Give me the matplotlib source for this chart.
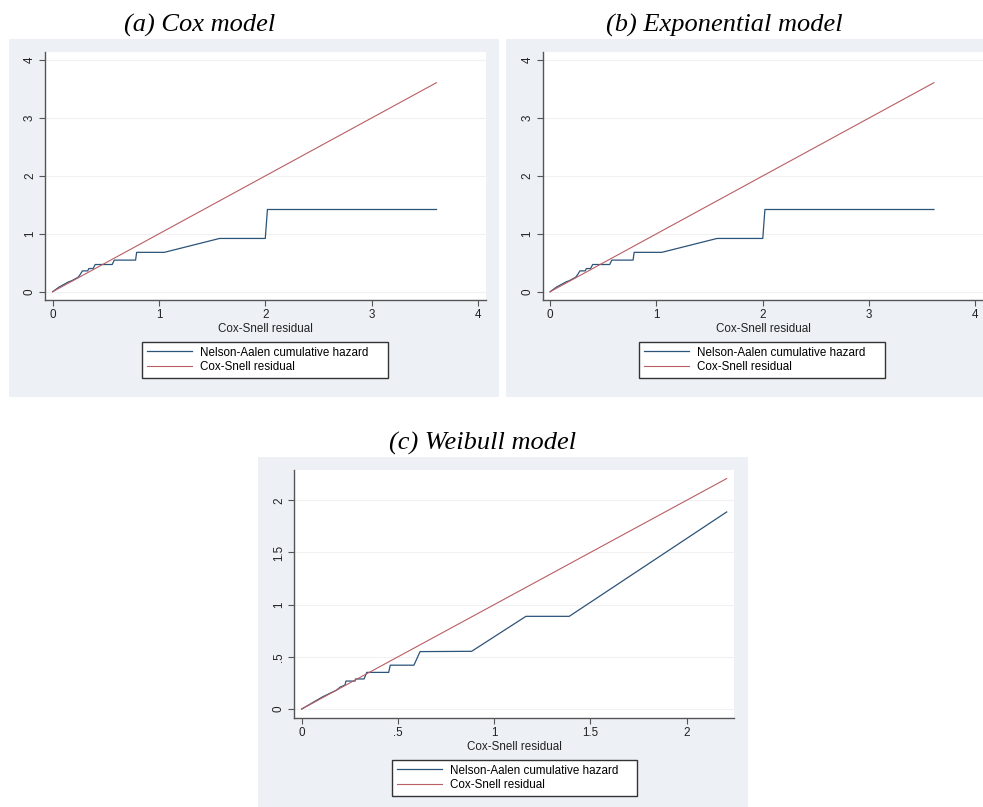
import numpy as np
import matplotlib
matplotlib.use("Agg")
import matplotlib.pyplot as plt
from matplotlib.patches import Rectangle

plt.rcParams['font.family'] = ['Liberation Sans', 'DejaVu Sans']

# --- data ---
# (a) Cox model and (b) Exponential model: Nelson-Aalen cumulative hazard vs Cox-Snell residual
cs_a = [0, 0.03, 0.06, 0.09, 0.12, 0.15, 0.18, 0.21, 0.24, 0.26, 0.28, 0.33, 0.34, 0.38,
        0.40, 0.56, 0.58, 0.78, 0.79, 1.05, 1.57, 2.00, 2.02, 3.61]
na_a = [0, 0.04, 0.08, 0.11, 0.14, 0.17, 0.19, 0.22, 0.25, 0.30, 0.36, 0.36, 0.40, 0.40,
        0.47, 0.47, 0.546, 0.546, 0.68, 0.68, 0.92, 0.92, 1.42, 1.42]
cs_b = cs_a
na_b = na_a
# (c) Weibull model
cs_c = [0, 0.08, 0.11, 0.18, 0.20, 0.225, 0.23, 0.277, 0.28, 0.324, 0.338, 0.452, 0.46,
        0.583, 0.615, 0.883, 1.165, 1.39, 2.208]
na_c = [0, 0.086, 0.118, 0.18, 0.21, 0.23, 0.268, 0.268, 0.288, 0.288, 0.351, 0.351, 0.42,
        0.42, 0.55, 0.553, 0.888, 0.888, 1.888]
diag_ab = [0, 3.61]
diag_c = [0, 2.208]

titles = ['(a) Cox model', '(b) Exponential model', '(c) Weibull model']
yticks_ab = [0, 1, 2, 3, 4]
xticks_ab = [0, 1, 2, 3, 4]
ticks_c = [0, 0.5, 1, 1.5, 2]
ticklabels_c = ['0', '.5', '1', '1.5', '2']
legend_labels = ['Nelson-Aalen cumulative hazard', 'Cox-Snell residual']

W, H = 983, 807
fig = plt.figure(figsize=(W / 100, H / 100), dpi=100)
fig.patch.set_facecolor('white')


def box(x0, y0, x1, y1):
    return [x0 / W, 1 - y1 / H, (x1 - x0) / W, (y1 - y0) / H]


bg = '#edf1f6'
navy = '#2c5379'
maroon = '#b95e63'
fs = 8.4

for (x0, y0, x1, y1) in [(9, 39, 499, 397), (506, 39, 996, 397), (258, 457, 748, 807)]:
    fig.patches.append(Rectangle((x0 / W, 1 - y1 / H), (x1 - x0) / W, (y1 - y0) / H,
                                 transform=fig.transFigure, facecolor=bg, edgecolor='none',
                                 zorder=-5))


def panel(rect, xs, ys, diag, xlim, ylim, xt, xtl, yt, ytl, leg):
    ax = fig.add_axes(box(*rect))
    ax.set_facecolor('white')
    ax.plot(xs, ys, color=navy, lw=0.9)
    ax.plot(diag, diag, color=maroon, lw=0.8)
    ax.set_xlim(*xlim)
    ax.set_ylim(*ylim)
    ax.set_xticks(xt)
    ax.set_xticklabels(xtl)
    ax.set_yticks(yt)
    ax.set_yticklabels(ytl, rotation=90, va='center')
    for y in yt:
        ax.axhline(y, color='#f1f1f1', lw=0.8, zorder=0)
    for s in ['top', 'right']:
        ax.spines[s].set_visible(False)
    for s in ['left', 'bottom']:
        ax.spines[s].set_color('#555555')
        ax.spines[s].set_linewidth(1.0)
    ax.tick_params(axis='both', colors='#555555', labelcolor='#222222', labelsize=fs,
                   length=4, width=0.8)
    ax.tick_params(axis='y', pad=2.5)
    ax.tick_params(axis='x', pad=2.5)
    ax.set_xlabel('Cox-Snell residual', fontsize=fs, color='#222222', labelpad=1.5)
    lx0, ly0, lx1, ly1 = leg
    lg = ax.legend(legend_labels, loc='center', mode='expand',
                   bbox_to_anchor=(lx0 / W, 1 - ly1 / H, (lx1 - lx0) / W, (ly1 - ly0) / H),
                   bbox_transform=fig.transFigure, fontsize=fs, frameon=True,
                   fancybox=False, framealpha=1, edgecolor='#333333', handlelength=3.9,
                   handletextpad=0.7, borderpad=0.4, labelspacing=0.25, borderaxespad=0)
    lg.get_frame().set_linewidth(1.0)
    return ax


panel((45, 52, 486, 300), cs_a, na_a, diag_ab, (-0.072, 4.076), (-0.143, 4.14),
      xticks_ab, [str(t) for t in xticks_ab], yticks_ab, [str(t) for t in yticks_ab],
      (142, 340, 388, 380))
panel((542.5, 52, 983.5, 300), cs_b, na_b, diag_ab, (-0.072, 4.076), (-0.143, 4.14),
      xticks_ab, [str(t) for t in xticks_ab], yticks_ab, [str(t) for t in yticks_ab],
      (639, 340, 885, 380))
panel((294, 470, 734, 718), cs_c, na_c, diag_c, (-0.04, 2.246), (-0.086, 2.29),
      ticks_c, ticklabels_c, ticks_c, ticklabels_c, (392, 758, 637, 798))

for t, (x, y) in zip(titles, [(200, 25), (724, 25), (483, 443)]):
    fig.text(x / W, 1 - y / H, t, family='Liberation Serif', style='italic', fontsize=19,
             ha='center', va='center')

fig.savefig('out.png', dpi=100)
